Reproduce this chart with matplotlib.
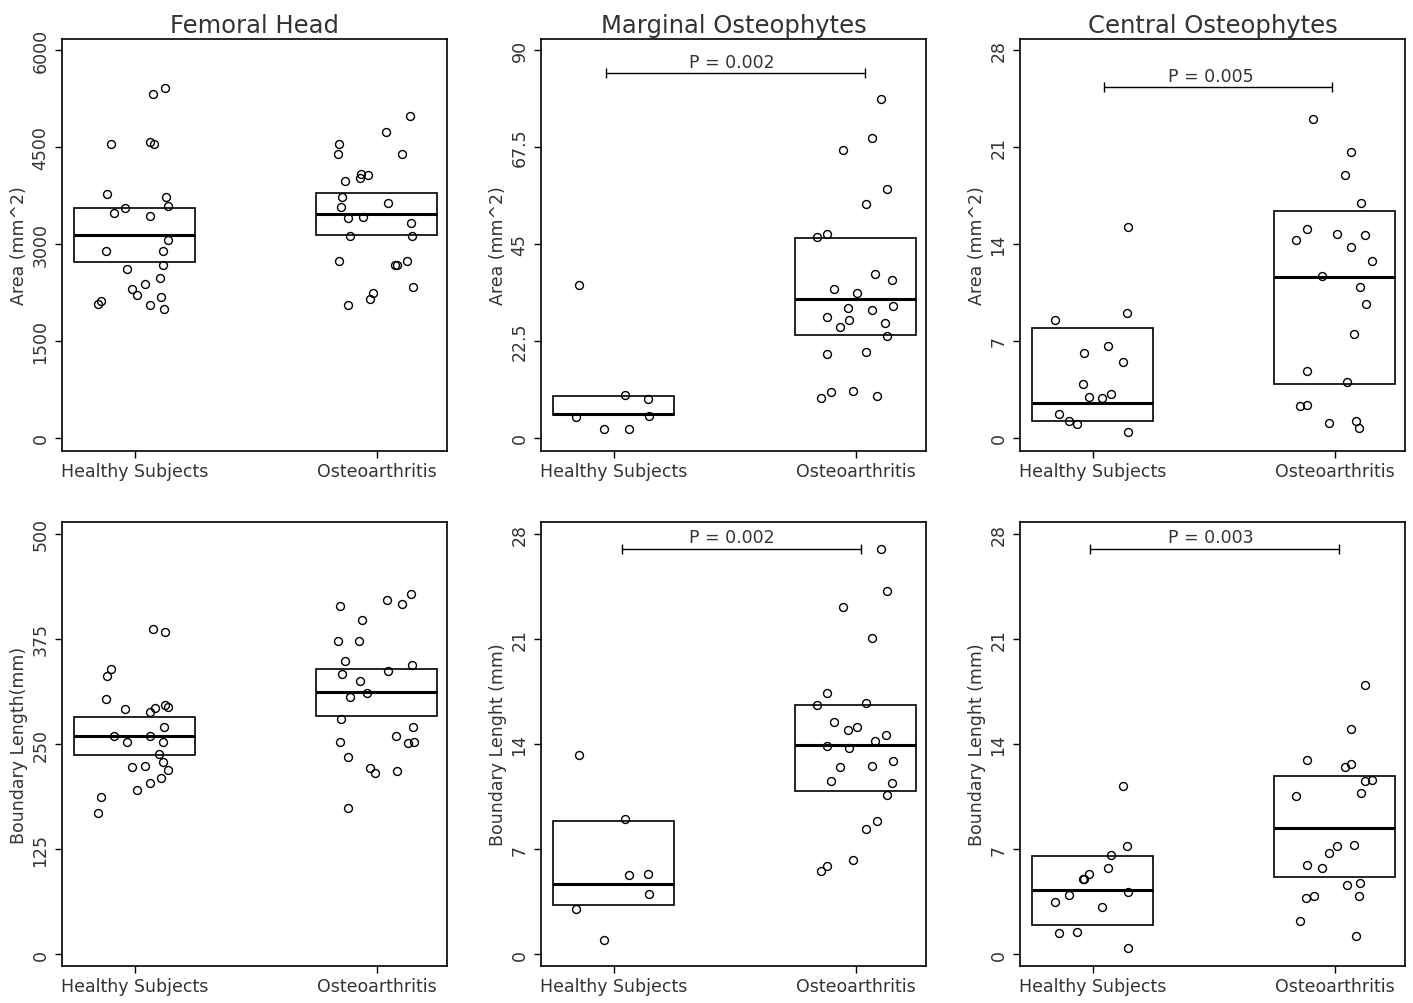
import matplotlib
matplotlib.use('Agg')
import matplotlib.pyplot as plt

plt.rcParams['font.family'] = ['DejaVu Sans']
plt.rcParams['text.color'] = '#333333'
plt.rcParams['axes.labelcolor'] = '#333333'
plt.rcParams['xtick.labelcolor'] = '#333333'
plt.rcParams['ytick.labelcolor'] = '#333333'

groups = ['Healthy Subjects', 'Osteoarthritis']

# ---- Femoral head, area (mm^2)
fh_area_hs_x = [0.850, 0.863, 0.901, 0.887, 0.915, 0.959, 0.882, 0.967, 0.988, 1.011,
                1.041, 1.063, 1.074, 1.125, 1.063, 1.082, 1.063, 1.130, 1.137, 1.137,
                1.117, 1.117, 1.104, 1.107, 1.121]
fh_area_hs_y = [2076, 2107, 4544, 3775, 3470, 3558, 2892, 2608, 2303, 2215,
                2375, 2050, 5318, 5406, 4570, 4544, 3434, 3718, 3589, 3052,
                2892, 2675, 2463, 2179, 1993]
fh_area_oa_x = [1.842, 1.839, 1.867, 1.856, 1.852, 1.880, 1.890, 1.846, 1.880, 1.931,
                1.934, 1.962, 1.945, 1.970, 1.986, 2.038, 2.137, 2.103, 2.048, 2.140,
                2.146, 2.125, 2.082, 2.076, 2.148]
fh_area_oa_y = [4544, 4384, 3976, 3718, 3573, 3392, 3124, 2731, 2050, 4012,
                4084, 4064, 3408, 2143, 2246, 4725, 4983, 4384, 3630, 3325,
                3124, 2731, 2675, 2675, 2324]
fh_area_box = [(2726, 3129, 3547), (3134, 3454, 3790)]

# ---- Marginal osteophytes, area (mm^2)
mo_area_hs_x = [0.858, 1.048, 1.141, 0.843, 1.148, 0.959, 1.065]
mo_area_hs_y = [35.4, 9.9, 8.9, 4.9, 5.0, 2.1, 2.1]
mo_area_oa_x = [2.106, 2.066, 1.949, 2.127, 2.041, 1.841, 1.883, 2.080, 2.149, 1.912,
                2.007, 1.966, 2.066, 2.152, 1.883, 1.972, 1.935, 2.121, 2.127, 1.883,
                2.041, 1.858, 1.897, 1.990, 2.086]
mo_area_oa_y = [78.6, 69.6, 66.8, 57.7, 54.2, 46.5, 47.4, 38.1, 36.6, 34.5,
                33.7, 30.2, 29.7, 30.5, 28.0, 27.3, 25.6, 26.7, 23.5, 19.4,
                19.8, 9.1, 10.5, 10.8, 9.7]
mo_area_box = [(5.3, 5.6, 9.6), (23.9, 32.1, 46.4)]

# ---- Central osteophytes, area (mm^2)
co_area_hs_x = [1.146, 0.846, 1.140, 1.063, 0.966, 1.127, 0.959, 0.986, 1.040, 1.074,
                0.860, 0.902, 0.935, 1.146]
co_area_hs_y = [15.25, 8.48, 8.99, 6.63, 6.14, 5.47, 3.86, 2.96, 2.84, 3.18,
                1.71, 1.18, 1.01, 0.43]
co_area_oa_x = [1.910, 2.065, 2.043, 2.109, 1.886, 1.840, 2.010, 2.125, 2.065, 2.154,
                1.946, 2.103, 2.128, 2.081, 1.886, 2.051, 1.858, 1.886, 1.975, 2.087,
                2.101]
co_area_oa_y = [23.01, 20.63, 18.99, 16.96, 15.04, 14.26, 14.75, 14.67, 13.76, 12.75,
                11.66, 10.92, 9.66, 7.47, 4.80, 4.05, 2.27, 2.34, 1.08, 1.20,
                0.67]
co_area_box = [(1.23, 2.53, 7.93), (3.90, 11.61, 16.34)]

# ---- Femoral head, boundary length (mm)
fh_len_hs_x = [1.074, 1.125, 0.901, 0.887, 0.882, 0.959, 1.063, 1.083, 1.127, 1.137,
               1.121, 0.915, 1.063, 0.967, 1.117, 1.102, 1.117, 0.988, 1.041, 1.138,
               1.107, 1.063, 1.011, 0.862, 0.848]
fh_len_hs_y = [386.3, 383.5, 339.5, 330.8, 303.9, 291.2, 288.4, 292.4, 296.4, 294.0,
               270.6, 259.5, 259.5, 252.8, 252.8, 237.7, 228.6, 222.7, 223.8, 218.7,
               210.0, 203.2, 194.9, 187.0, 168.4]
fh_len_oa_x = [1.847, 2.041, 2.106, 2.140, 1.940, 1.841, 1.928, 1.868, 2.144, 1.857,
               2.047, 1.931, 1.960, 1.890, 1.853, 2.149, 1.849, 2.081, 2.127, 2.154,
               1.883, 1.972, 1.992, 2.085, 1.883]
fh_len_oa_y = [414.0, 421.2, 416.8, 427.9, 397.8, 372.4, 372.4, 349.1, 343.9, 332.8,
               336.8, 324.5, 310.2, 306.3, 280.1, 270.6, 252.4, 259.5, 251.6, 252.4,
               234.9, 221.5, 215.1, 217.9, 173.9]
fh_len_box = [(236.5, 259.9, 282.1), (283.7, 312.2, 338.7)]

# ---- Marginal osteophytes, boundary length (mm)
mo_len_hs_x = [0.857, 1.048, 1.065, 1.141, 1.148, 0.843, 0.959]
mo_len_hs_y = [13.29, 8.99, 5.28, 5.37, 4.04, 3.04, 0.95]
mo_len_oa_x = [2.106, 2.127, 1.949, 2.066, 1.883, 1.841, 2.041, 1.912, 1.966, 2.007,
               2.124, 2.080, 1.883, 1.974, 1.935, 2.066, 2.152, 1.897, 2.149, 2.127,
               2.086, 2.041, 1.990, 1.858, 1.883]
mo_len_oa_y = [26.96, 24.18, 23.12, 21.03, 17.42, 16.57, 16.71, 15.46, 14.93, 15.15,
               14.62, 14.18, 13.87, 13.76, 12.47, 12.54, 12.85, 11.54, 11.38, 10.61,
               8.90, 8.36, 6.28, 5.52, 5.88]
mo_len_box = [(3.28, 4.66, 8.87), (10.87, 13.93, 16.57)]

# ---- Central osteophytes, boundary length (mm)
co_len_hs_x = [1.127, 1.140, 1.074, 1.063, 0.986, 0.959, 0.966, 1.146, 0.902, 0.846,
               1.040, 0.860, 0.935, 1.146]
co_len_hs_y = [11.23, 7.19, 6.59, 5.75, 5.37, 4.99, 5.04, 4.17, 3.97, 3.48,
               3.13, 1.42, 1.51, 0.40]
co_len_oa_x = [2.125, 2.065, 1.886, 2.043, 2.065, 2.125, 2.154, 2.109, 1.840, 2.010,
               2.081, 1.975, 1.886, 1.946, 2.051, 2.103, 1.883, 1.913, 2.101, 1.858,
               2.087]
co_len_oa_y = [17.95, 15.02, 12.94, 12.45, 12.69, 11.54, 11.60, 10.76, 10.54, 7.19,
               7.28, 6.77, 5.97, 5.75, 4.59, 4.73, 3.73, 3.88, 3.88, 2.20,
               1.20]
co_len_box = [(1.93, 4.28, 6.57), (5.17, 8.43, 11.89)]

p_labels = ['P = 0.002', 'P = 0.005', 'P = 0.002', 'P = 0.003']

W, H = 1413, 1004
fig = plt.figure(figsize=(W / 100, H / 100), dpi=100)

col_left = [62, 541, 1020]
rows = [(40, 452), (523, 967)]
panel_w = 385

panels = [
    # row, col, title, ylabel, ticks, ylim, data, box, bracket (x0, x1, y, label)
    (0, 0, 'Femoral Head', 'Area (mm^2)', [0, 1500, 3000, 4500, 6000], (-207, 6170),
     (fh_area_hs_x, fh_area_hs_y, fh_area_oa_x, fh_area_oa_y), fh_area_box, None),
    (0, 1, 'Marginal Osteophytes', 'Area (mm^2)', [0, 22.5, 45, 67.5, 90], (-3.1, 92.56),
     (mo_area_hs_x, mo_area_hs_y, mo_area_oa_x, mo_area_oa_y), mo_area_box,
     (0.970, 2.037, 84.6, p_labels[0])),
    (0, 2, 'Central Osteophytes', 'Area (mm^2)', [0, 7, 14, 21, 28], (-0.96, 28.8),
     (co_area_hs_x, co_area_hs_y, co_area_oa_x, co_area_oa_y), co_area_box,
     (1.045, 1.988, 25.3, p_labels[1])),
    (1, 0, None, 'Boundary Length(mm)', [0, 125, 250, 375, 500], (-13.9, 513.9),
     (fh_len_hs_x, fh_len_hs_y, fh_len_oa_x, fh_len_oa_y), fh_len_box, None),
    (1, 1, None, 'Boundary Lenght (mm)', [0, 7, 14, 21, 28], (-0.78, 28.78),
     (mo_len_hs_x, mo_len_hs_y, mo_len_oa_x, mo_len_oa_y), mo_len_box,
     (1.036, 2.021, 27.0, p_labels[2])),
    (1, 2, None, 'Boundary Lenght (mm)', [0, 7, 14, 21, 28], (-0.78, 28.78),
     (co_len_hs_x, co_len_hs_y, co_len_oa_x, co_len_oa_y), co_len_box,
     (0.990, 2.017, 27.0, p_labels[3])),
]

for row, col, title, ylabel, ticks, ylim, pts, box, bracket in panels:
    top, bottom = rows[row]
    ax = fig.add_axes([col_left[col] / W, 1 - bottom / H, panel_w / W, (bottom - top) / H])
    hs_x, hs_y, oa_x, oa_y = pts

    for i, (lo, med, hi) in enumerate(box):
        ax.bar(i + 1, hi - lo, bottom=lo, width=0.5, fill=False,
               edgecolor='black', linewidth=1.2, zorder=1)
        ax.hlines(med, i + 1 - 0.25, i + 1 + 0.25, colors='black', linewidth=2.2, zorder=2)

    for xs, ys in [(hs_x, hs_y), (oa_x, oa_y)]:
        ax.plot(xs, ys, 'o', mfc='none', mec='black', ms=5.7, mew=1.0, zorder=3)

    if bracket is not None:
        x0, x1, yb, lab = bracket
        ax.errorbar((x0 + x1) / 2, yb, xerr=(x1 - x0) / 2, fmt='none',
                    ecolor='black', elinewidth=1.0, capsize=3.5, capthick=1.0)
        ax.annotate(lab, (1.49, yb), xytext=(0, 2), textcoords='offset points',
                    ha='center', va='bottom', fontsize=12.5)

    ax.set_xlim(0.70, 2.29)
    ax.set_ylim(*ylim)
    ax.set_xticks([1, 2])
    ax.set_xticklabels(groups, fontsize=12.5)
    ax.set_yticks(ticks)
    ax.set_yticklabels([f'{t:g}' for t in ticks], fontsize=12.5, rotation=90, va='center')
    ax.tick_params(length=5, width=1.0, color='black', direction='out')
    ax.tick_params(axis='y', pad=4)
    ax.tick_params(axis='x', pad=3)
    for sp in ax.spines.values():
        sp.set_linewidth(1.2)
    ax.set_ylabel(ylabel, fontsize=12.5)
    ax.yaxis.set_label_coords(-0.088, 0.5)
    if title:
        ax.set_title(title, fontsize=17.5, pad=5)

fig.savefig('out.png', dpi=100)
